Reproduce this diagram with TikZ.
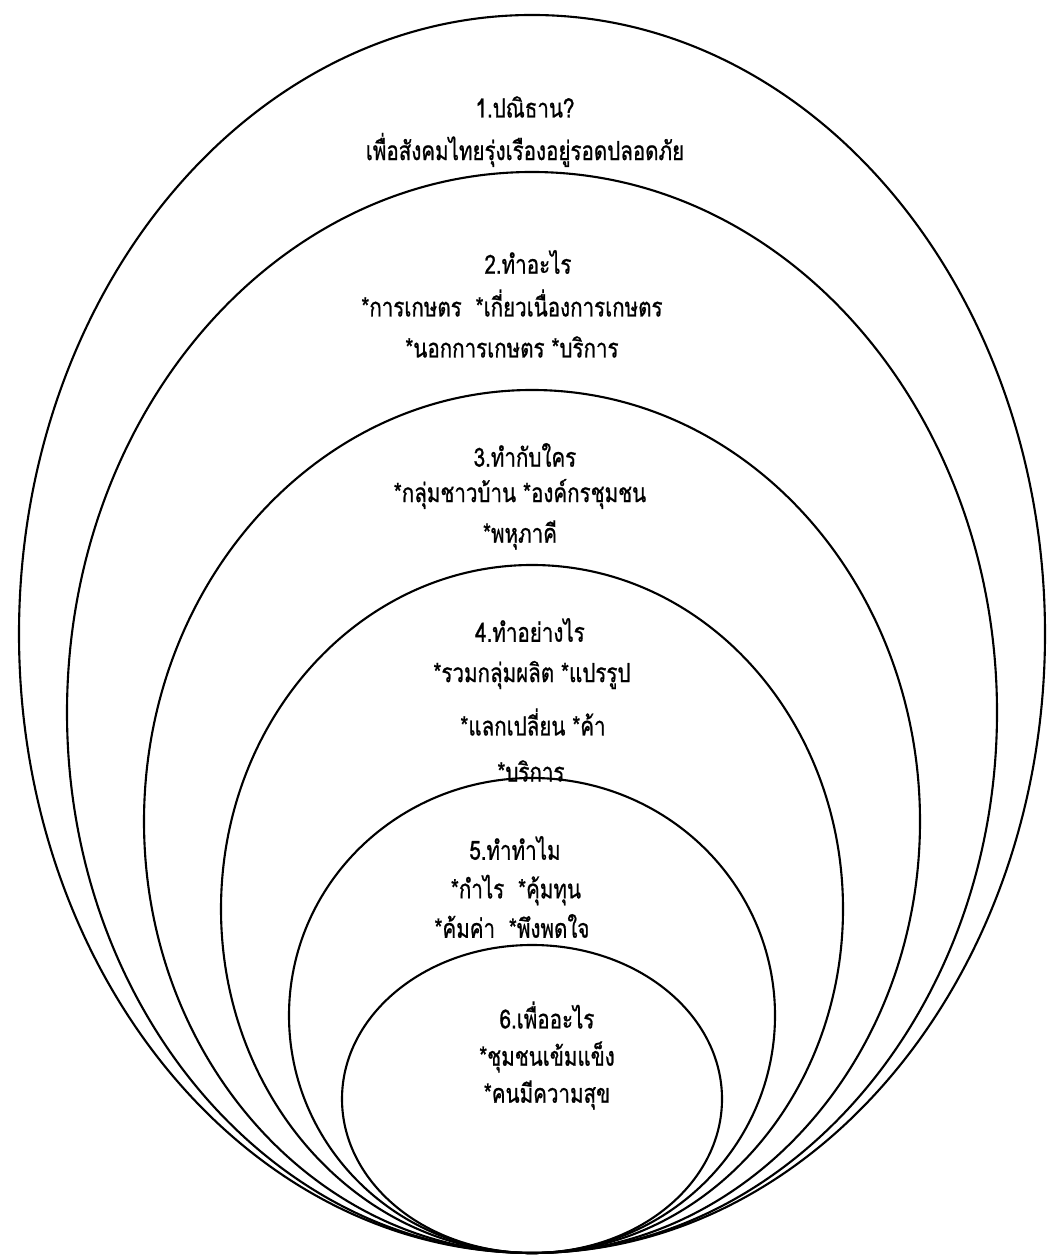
\documentclass[tikz,border=0pt]{standalone}
\usepackage{fontspec}
\newfontfamily\thaifont[Script=Thai,FakeStretch=0.78,FakeBold=0.8]{Loma}
\begin{document}
\begin{tikzpicture}[x=0.02cm,y=0.02cm,font=\thaifont\fontsize{15}{18}\selectfont,line width=1.2pt]
  \useasboundingbox (0,0) rectangle (1047,1257);

  \foreach \cy/\rx/\ry in {623/513/619,544.5/465/540.5,435.5/388/431.5,348/311/344,241.5/243/237.5,158/190/154}
    \draw (532,\cy) ellipse [x radius=\rx, y radius=\ry];

  \foreach \nm/\x/\y/\txt in {a1/525/1150/{1.ปณิธาน?},a2/525/1107/{เพื่อสังคมไทยรุ่งเรืองอยู่รอดปลอดภัย},
      b1/528/995/{2.ทำอะไร},b2/512/954/{*การเกษตร\ \ *เกี่ยวเนื่องการเกษตร},b3/512/910/{*นอกการเกษตร *บริการ},
      c1/525/802/{3.ทำกับใคร},c2/520/763/{*กลุ่มชาวบ้าน *องค์กรชุมชน},c3/520/722/{*พหุภาคี},
      d1/530/627/{4.ทำอย่างไร},d2/532/582/{*รวมกลุ่มผลิต *แปรรูป},d3/533/535/{*แลกเปลี่ยน *ค้า},d4/531/486/{*บริการ},
      e1/515/409/{5.ทำทำไม},e2/516/367/{*กำไร\ \ *คุ้มทุน},e3/512/331/{*ค้มค่า\ \ *พึงพดใจ},
      f1/547/242/{6.เพื่ออะไร},f2/547/200/{*ชุมชนเข้มแข็ง},f3/547/162/{*คนมีความสุข}}
    \node (\nm) at (\x,\y) {\txt};
\end{tikzpicture}
\end{document}
